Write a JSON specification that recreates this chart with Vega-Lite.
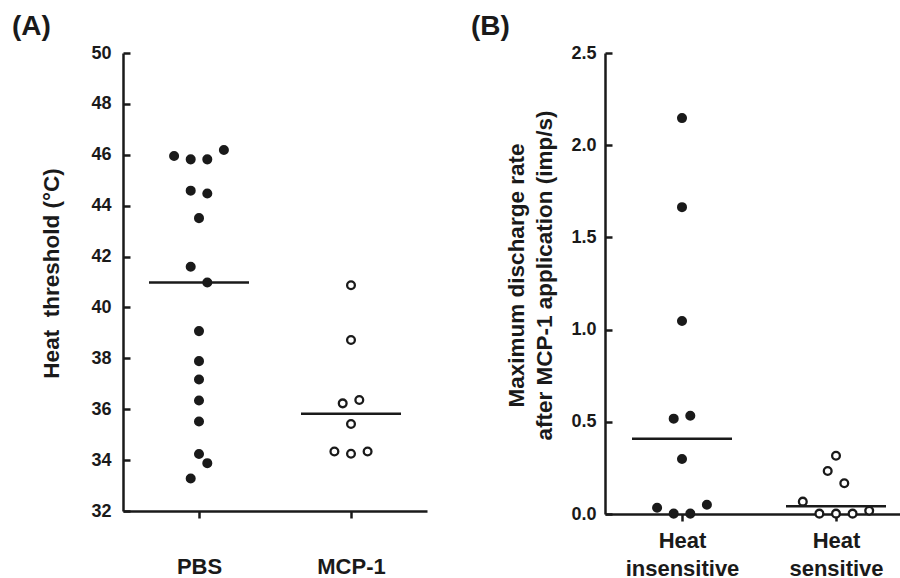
{
  "$schema": "https://vega.github.io/schema/vega-lite/v6.json",
  "background": "white",
  "padding": {"left": 12, "top": 13, "right": 0, "bottom": 0},
  "spacing": 44,
  "config": {
    "view": {"stroke": null},
    "font": "Liberation Sans",
    "axis": {
      "grid": false,
      "domainColor": "#1a1a1a",
      "domainWidth": 2.5,
      "tickColor": "#1a1a1a",
      "tickWidth": 2.5,
      "labelColor": "#1a1a1a",
      "labelFont": "Liberation Sans",
      "labelFontWeight": "bold",
      "titleFont": "Liberation Sans",
      "titleFontWeight": "bold",
      "titleColor": "#1a1a1a"
    },
    "title": {"font": "Liberation Sans", "fontWeight": "bold", "fontSize": 28, "anchor": "start", "frame": "group", "color": "#1a1a1a"}
  },
  "resolve": {"scale": {"fill": "independent", "x": "independent", "y": "independent", "xOffset": "independent"}},
  "hconcat": [
    {
      "title": {"text": "(A)", "dx": -111, "offset": 3},
      "width": 304,
      "height": 458,
      "data": {"values": [
        {"group": "PBS", "value": 45.95, "lane": -3},
        {"group": "PBS", "value": 45.82, "lane": -1},
        {"group": "PBS", "value": 45.82, "lane": 1},
        {"group": "PBS", "value": 46.19, "lane": 3},
        {"group": "PBS", "value": 44.59, "lane": -1},
        {"group": "PBS", "value": 44.48, "lane": 1},
        {"group": "PBS", "value": 43.51, "lane": 0},
        {"group": "PBS", "value": 41.6, "lane": -1},
        {"group": "PBS", "value": 40.98, "lane": 1},
        {"group": "PBS", "value": 39.07, "lane": 0},
        {"group": "PBS", "value": 37.89, "lane": 0},
        {"group": "PBS", "value": 37.17, "lane": 0},
        {"group": "PBS", "value": 36.34, "lane": 0},
        {"group": "PBS", "value": 35.52, "lane": 0},
        {"group": "PBS", "value": 34.24, "lane": 0},
        {"group": "PBS", "value": 33.88, "lane": 1},
        {"group": "PBS", "value": 33.28, "lane": -1},
        {"group": "MCP-1", "value": 40.87, "lane": 0},
        {"group": "MCP-1", "value": 38.72, "lane": 0},
        {"group": "MCP-1", "value": 36.23, "lane": -1},
        {"group": "MCP-1", "value": 36.36, "lane": 1},
        {"group": "MCP-1", "value": 35.42, "lane": 0},
        {"group": "MCP-1", "value": 34.34, "lane": -2},
        {"group": "MCP-1", "value": 34.25, "lane": 0},
        {"group": "MCP-1", "value": 34.34, "lane": 2}
      ]},
      "encoding": {
        "x": {
          "field": "group", "type": "nominal", "sort": ["PBS", "MCP-1"],
          "scale": {"type": "point", "padding": 0.5},
          "axis": {"title": null, "labelAngle": 0, "labelFontSize": 22, "labelPadding": 38, "tickSize": 7}
        },
        "y": {
          "field": "value", "type": "quantitative",
          "scale": {"domain": [32, 50], "nice": false, "zero": false},
          "axis": {
            "values": [32, 34, 36, 38, 40, 42, 44, 46, 48, 50],
            "title": "Heat\u00a0 threshold (°C)",
            "titleFontSize": 22.5,
            "titlePadding": 27,
            "titleY": 220,
            "labelFontSize": 18,
            "tickSize": -7,
            "labelPadding": 19
          }
        }
      },
      "layer": [
        {
          "mark": {"type": "point", "shape": "circle", "filled": true, "size": 60, "stroke": "#1a1a1a", "strokeWidth": 2.3, "opacity": 1},
          "encoding": {
            "xOffset": {"field": "lane", "type": "quantitative", "scale": {"domain": [-4, 4], "range": [-33.2, 33.2]}},
            "fill": {"field": "group", "type": "nominal", "scale": {"domain": ["PBS", "MCP-1"], "range": ["#1a1a1a", "white"]}, "legend": null}
          }
        },
        {
          "mark": {"type": "tick", "size": 100, "thickness": 2.5, "color": "#1a1a1a", "opacity": 1},
          "encoding": {
            "y": {"aggregate": "median", "field": "value", "type": "quantitative"}
          }
        }
      ]
    },
    {
      "title": {"text": "(B)", "dx": -134, "offset": 3},
      "width": 308,
      "height": 461,
      "data": {"values": [
        {"group": "Heat insensitive", "value": 2.147, "lane": 0},
        {"group": "Heat insensitive", "value": 1.664, "lane": 0},
        {"group": "Heat insensitive", "value": 1.047, "lane": 0},
        {"group": "Heat insensitive", "value": 0.517, "lane": -1},
        {"group": "Heat insensitive", "value": 0.533, "lane": 1},
        {"group": "Heat insensitive", "value": 0.298, "lane": 0},
        {"group": "Heat insensitive", "value": 0.034, "lane": -3},
        {"group": "Heat insensitive", "value": 0.002, "lane": -1},
        {"group": "Heat insensitive", "value": 0.002, "lane": 1},
        {"group": "Heat insensitive", "value": 0.05, "lane": 3},
        {"group": "Heat sensitive", "value": 0.316, "lane": 0},
        {"group": "Heat sensitive", "value": 0.233, "lane": -1},
        {"group": "Heat sensitive", "value": 0.167, "lane": 1},
        {"group": "Heat sensitive", "value": 0.067, "lane": -4},
        {"group": "Heat sensitive", "value": 0.002, "lane": -2},
        {"group": "Heat sensitive", "value": 0.002, "lane": 0},
        {"group": "Heat sensitive", "value": 0.002, "lane": 2},
        {"group": "Heat sensitive", "value": 0.018, "lane": 4}
      ]},
      "encoding": {
        "x": {
          "field": "group", "type": "nominal", "sort": ["Heat insensitive", "Heat sensitive"],
          "scale": {"type": "point", "padding": 0.5},
          "axis": {"title": null, "labelAngle": 0, "labelFontSize": 22, "labelPadding": 9, "tickSize": 7, "labelExpr": "split(datum.label, ' ')", "labelLineHeight": 28}
        },
        "y": {
          "field": "value", "type": "quantitative",
          "scale": {"domain": [0, 2.5], "nice": false},
          "axis": {
            "values": [0, 0.5, 1, 1.5, 2, 2.5],
            "format": ".1f",
            "title": ["Maximum discharge rate", "after MCP-1 application (imp/s)"],
            "titleFontSize": 22.5,
            "titleLineHeight": 28,
            "titlePadding": 14,
            "titleY": 222,
            "labelFontSize": 18,
            "tickSize": -7,
            "labelPadding": 16
          }
        }
      },
      "layer": [
        {
          "mark": {"type": "point", "shape": "circle", "filled": true, "size": 60, "stroke": "#1a1a1a", "strokeWidth": 2.3, "opacity": 1},
          "encoding": {
            "xOffset": {"field": "lane", "type": "quantitative", "scale": {"domain": [-4, 4], "range": [-33.2, 33.2]}},
            "fill": {"field": "group", "type": "nominal", "scale": {"domain": ["Heat insensitive", "Heat sensitive"], "range": ["#1a1a1a", "white"]}, "legend": null}
          }
        },
        {
          "mark": {"type": "tick", "size": 100, "thickness": 2.5, "color": "#1a1a1a", "opacity": 1},
          "encoding": {
            "y": {"aggregate": "median", "field": "value", "type": "quantitative"}
          }
        }
      ]
    }
  ]
}
